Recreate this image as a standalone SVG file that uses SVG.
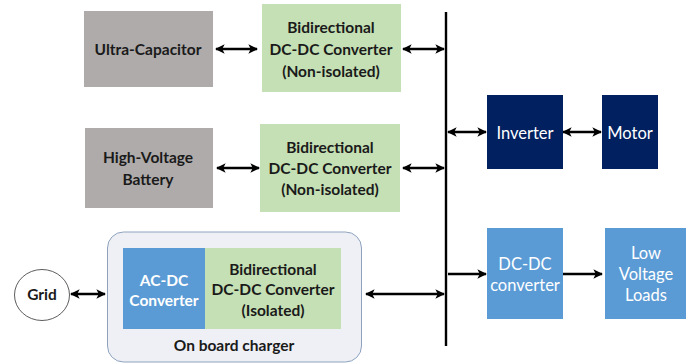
<svg xmlns="http://www.w3.org/2000/svg" width="691" height="364" viewBox="0 0 691 364">
<defs>
<marker id="ah" viewBox="0 0 10 10" refX="9" refY="5" markerWidth="4" markerHeight="4" orient="auto-start-reverse" markerUnits="strokeWidth">
<path d="M0,0 L10,5 L0,10 L2.5,5 Z" fill="#000"/>
</marker>
<style>
.t{font-family:Lato,"Open Sans","Liberation Sans",sans-serif;font-size:15.5px;font-weight:bold;fill:#1a1a1a;text-anchor:middle;dominant-baseline:central}
.w{font-family:Lato,"Open Sans","Liberation Sans",sans-serif;font-size:16.5px;fill:#fff;text-anchor:middle;dominant-baseline:central}
.gray{fill:#AEABAA}
.green{fill:#C5E0B4}
.navy{fill:#002060}
.blue{fill:#5B9BD5}
.c{stroke:#000;stroke-width:2.4;fill:none}
.d{marker-start:url(#ah);marker-end:url(#ah)}
.s{marker-end:url(#ah)}
</style>
</defs>
<g id="connectors">
<line class="c" x1="446" y1="12" x2="446" y2="346" stroke-width="3.5"/>
<line class="c d" x1="216" y1="49" x2="257" y2="49"/>
<line class="c d" x1="403" y1="49" x2="444" y2="49"/>
<line class="c d" x1="217" y1="168" x2="259" y2="168"/>
<line class="c d" x1="403" y1="168" x2="444" y2="168"/>
<line class="c d" x1="448" y1="132" x2="486" y2="132"/>
<line class="c d" x1="563" y1="132" x2="601" y2="132"/>
<line class="c s" x1="448" y1="274" x2="486" y2="274"/>
<line class="c s" x1="563" y1="274" x2="602" y2="274"/>
<line class="c d" x1="71" y1="294" x2="105" y2="294"/>
<line class="c d" x1="366" y1="294" x2="444" y2="294"/>
</g>
<g id="ultracap">
<rect class="gray" x="84" y="11" width="129" height="76"/>
<text class="t" x="148" y="49">Ultra-Capacitor</text>
</g>
<g id="conv1">
<rect class="green" x="262" y="4" width="139" height="88"/>
<text class="t" x="331" y="27">Bidirectional</text>
<text class="t" x="331" y="49">DC-DC Converter</text>
<text class="t" x="331" y="71">(Non-isolated)</text>
</g>
<g id="battery">
<rect class="gray" x="85" y="128" width="128" height="80"/>
<text class="t" x="148" y="157">High-Voltage</text>
<text class="t" x="148" y="179">Battery</text>
</g>
<g id="conv2">
<rect class="green" x="260" y="124" width="140" height="88"/>
<text class="t" x="330" y="147">Bidirectional</text>
<text class="t" x="330" y="168">DC-DC Converter</text>
<text class="t" x="330" y="189">(Non-isolated)</text>
</g>
<g id="grid">
<ellipse cx="42" cy="295" rx="27.5" ry="25.5" fill="#fff" stroke="#333" stroke-width="0.8"/>
<text class="t" x="42" y="294">Grid</text>
</g>
<g id="charger">
<rect x="107.5" y="232" width="254" height="130" rx="16" fill="#EEF0F5" stroke="#8EA2BE" stroke-width="1"/>
<g id="acdc">
<rect class="blue" x="123" y="248" width="82" height="81"/>
<text class="t" x="164" y="280" style="fill:#fff">AC-DC</text>
<text class="t" x="164" y="300" style="fill:#fff">Converter</text>
</g>
<g id="conv3">
<rect class="green" x="205" y="248" width="136" height="81"/>
<text class="t" x="273" y="269">Bidirectional</text>
<text class="t" x="273" y="289">DC-DC Converter</text>
<text class="t" x="273" y="310">(Isolated)</text>
</g>
<text class="t" x="234" y="345">On board charger</text>
</g>
<g id="inverter">
<rect class="navy" x="487" y="95" width="76" height="74"/>
<text class="w" x="525" y="133">Inverter</text>
</g>
<g id="motor">
<rect class="navy" x="602" y="95" width="56" height="74"/>
<text class="w" x="630" y="133">Motor</text>
</g>
<g id="dcdc">
<rect class="blue" x="487" y="228" width="76" height="91"/>
<text class="w" x="525" y="264">DC-DC</text>
<text class="w" x="525" y="285">converter</text>
</g>
<g id="lvl">
<rect class="blue" x="605" y="228" width="81" height="91"/>
<text class="w" x="646" y="253">Low</text>
<text class="w" x="646" y="274">Voltage</text>
<text class="w" x="646" y="295">Loads</text>
</g>
</svg>
